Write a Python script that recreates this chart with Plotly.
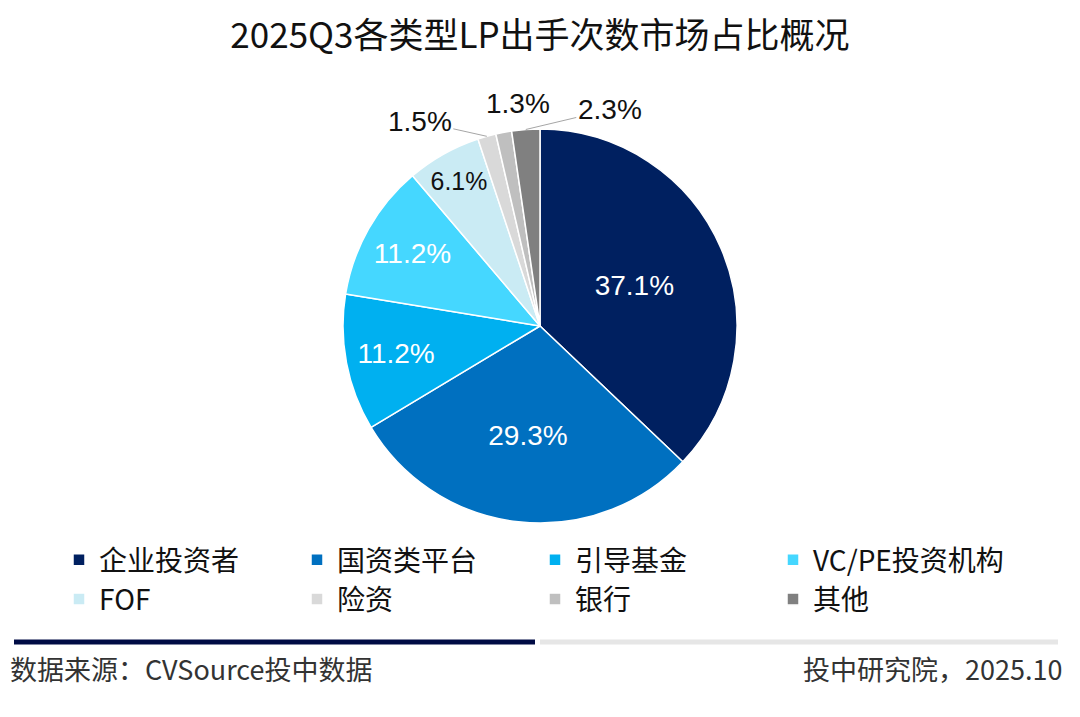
import math
import plotly.graph_objects as go

labels = ["企业投资者", "国资类平台", "引导基金", "VC/PE投资机构", "FOF", "险资", "银行", "其他"]
shares = [37.1, 29.3, 11.2, 11.2, 6.1, 1.5, 1.3, 2.3]
colors = ["#002060", "#0070C0", "#00B0F0", "#45D7FF", "#CAEBF4", "#D9D9D9", "#BFBFBF", "#808080"]
# small slices get their labels outside, with leader lines
outside = [False, False, False, False, False, True, True, True]
label_colors = ["white", "white", "white", "white", "#111111", "#111111", "#111111", "#111111"]
# pixel offsets of the outside labels from the slice edge
label_dx = [0, 0, 0, 0, 0, -67, 14, 84]
label_dy = [0, 0, 0, 0, 0, -15, -29, -20]

title_text = "2025Q3各类型LP出手次数市场占比概况"
source_text = "数据来源：CVSource投中数据"
credit_text = "投中研究院，2025.10"

cjk = "Noto Sans CJK SC"
W, H = 1080, 717
OFF = 8  # page body margin


def X(p):
    return (p - OFF) / W


def Y(p):
    return 1 - (p - OFF) / H


cx, cy, r = 540, 326, 197  # pie centre and radius in page pixels

fig = go.Figure()

fig.add_trace(go.Pie(
    labels=labels,
    values=shares,
    sort=False,
    direction="clockwise",
    rotation=0,
    marker=dict(colors=colors, line=dict(color="white", width=1.5)),
    text=["" if o else f"{v:.1f}%" for v, o in zip(shares, outside)],
    textinfo="text",
    textposition="inside",
    insidetextfont=dict(color=label_colors, family="Liberation Sans", size=28),
    insidetextorientation="horizontal",
    hoverinfo="label+value",
    domain=dict(x=[X(cx - r), X(cx + r)], y=[Y(cy + r), Y(cy - r)]),
))

# outside labels for the thin slices, anchored at the slice's outer edge
annotations = []
total = sum(shares)
cum = 0
for v, o, dx, dy in zip(shares, outside, label_dx, label_dy):
    mid = (cum + v / 2) / total * 2 * math.pi
    cum += v
    if not o:
        continue
    px = cx + r * math.sin(mid)
    py = cy - r * math.cos(mid)
    annotations.append(dict(
        text=f"{v:.1f}%", xref="paper", yref="paper", x=X(px), y=Y(py),
        showarrow=True, arrowhead=0, arrowwidth=1,
        arrowcolor="#A6A6A6" if abs(dx) > 30 else "rgba(0,0,0,0)",
        ax=dx, ay=dy, standoff=0,
        font=dict(family="Liberation Sans", size=28, color="#111111"),
    ))

annotations += [
    dict(text=source_text, xref="paper", yref="paper", x=X(8), y=Y(668), xanchor="left",
         yanchor="middle", showarrow=False, font=dict(family=cjk, size=27, color="#333333")),
    dict(text=credit_text, xref="paper", yref="paper", x=X(1064), y=Y(668), xanchor="right",
         yanchor="middle", showarrow=False, font=dict(family=cjk, size=27, color="#333333")),
]

fig.update_layout(
    width=W,
    height=H,
    margin=dict(l=0, r=0, t=0, b=0),
    paper_bgcolor="white",
    plot_bgcolor="white",
    font=dict(family=cjk, color="#111111"),
    title=dict(text=title_text, x=X(540), xanchor="center", y=Y(36), yanchor="middle",
               font=dict(family=cjk, size=35, color="#111111")),
    showlegend=True,
    legend=dict(orientation="h", x=X(59), xanchor="left", y=Y(535), yanchor="top",
                entrywidth=193, entrywidthmode="pixels", bgcolor="rgba(0,0,0,0)",
                font=dict(family=cjk, size=28, color="#111111"),
                traceorder="normal"),
    shapes=[
        dict(type="line", xref="paper", yref="paper", x0=X(14), x1=X(535), y0=Y(642), y1=Y(642),
             line=dict(color="#000B44", width=5)),
        dict(type="line", xref="paper", yref="paper", x0=X(540), x1=X(1058), y0=Y(642), y1=Y(642),
             line=dict(color="#E6E6E6", width=5)),
    ],
    annotations=annotations,
)

fig.write_html("out.html")
